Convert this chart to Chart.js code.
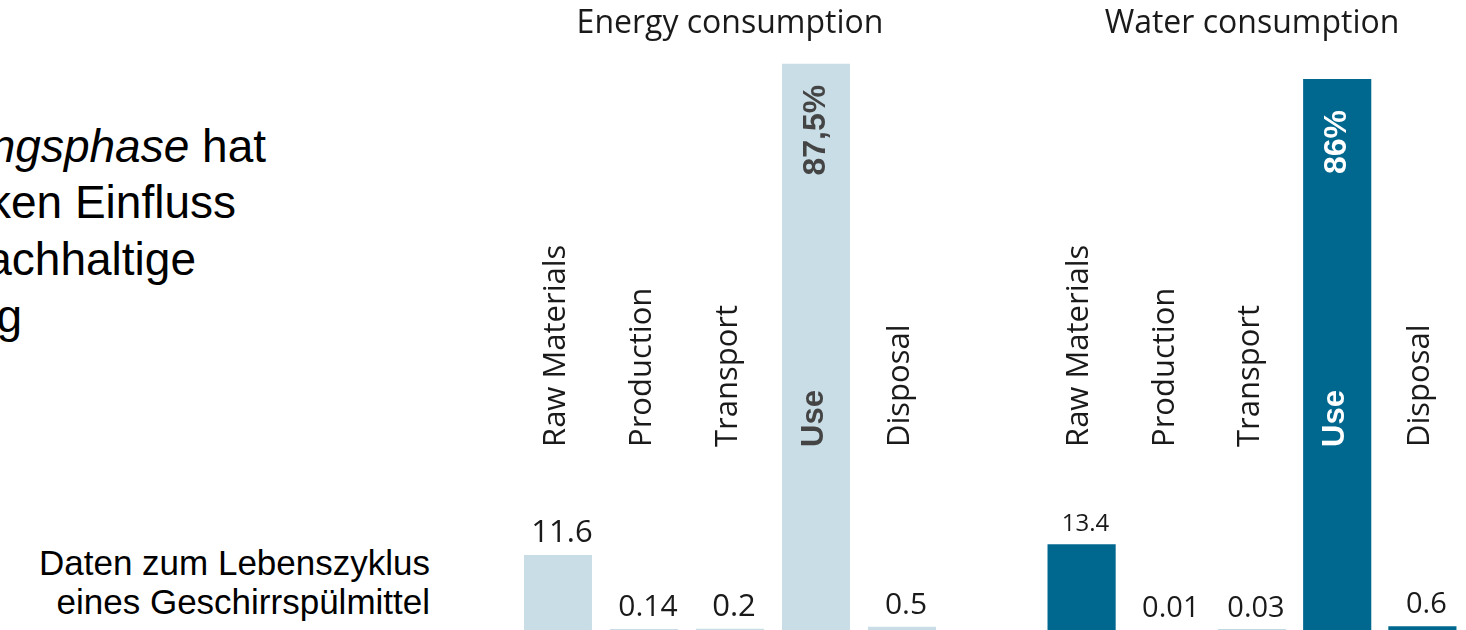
<!DOCTYPE html>
<html>
<head>
<meta charset="utf-8">
<script src="https://cdn.jsdelivr.net/npm/chart.js@4.4.1/dist/chart.umd.min.js"></script>
<style>
  html, body { margin: 0; padding: 0; background: #fff; }
  body { width: 1466px; height: 630px; position: relative; overflow: hidden; font-family: "Liberation Sans", Arial, sans-serif; color: #000; }
  .slide { position: absolute; white-space: nowrap; text-align: right; font-size: 46px; line-height: 57px; }
  .cap { position: absolute; white-space: nowrap; text-align: right; font-size: 35px; line-height: 40px; right: 1036px; }
  canvas { position: absolute; top: 0; }
</style>
</head>
<body>
<div class="slide" style="right:1200px; top:118px;"><i>Nutzungsphase</i> hat</div>
<div class="slide" style="right:1230px; top:174px;">starken Einfluss</div>
<div class="slide" style="right:1270px; top:231px;">nachhaltige</div>
<div class="slide" style="right:1444px; top:288px;">Entwicklung</div>

<div class="cap" style="top:543px;">Daten zum Lebenszyklus</div>
<div class="cap" style="top:582px;">eines Geschirrspülmittel</div>

<canvas id="energyChart" width="430" height="630" style="left:515px;"></canvas>
<canvas id="waterChart" width="426" height="630" style="left:1039px;"></canvas>

<script>
const categories = ["Raw Materials", "Production", "Transport", "Use", "Disposal"];
const energyValues = [11.6, 0.14, 0.2, 87.5, 0.5];
const energyLabels = ["11.6", "0.14", "0.2", "87,5%", "0.5"];
const waterValues = [13.4, 0.01, 0.03, 86, 0.6];
const waterLabels = ["13.4", "0.01", "0.03", "86%", "0.6"];

// draws the rotated category names and the value labels
const barText = {
  id: "barText",
  afterDatasetsDraw(chart, args, opts) {
    const ctx = chart.ctx;
    const meta = chart.getDatasetMeta(0);
    const values = chart.data.datasets[0].data;
    const mainIndex = values.indexOf(Math.max(...values));

    meta.data.forEach((bar, i) => {
      const isMain = i === mainIndex;

      ctx.save();
      ctx.translate(bar.x - 2, 447);
      ctx.rotate(-Math.PI / 2);
      ctx.textAlign = "left";
      ctx.textBaseline = "middle";
      ctx.font = isMain ? 'bold 31px "Liberation Sans", Arial' : '31px "Open Sans"';
      ctx.fillStyle = isMain ? opts.mainColor : "#1a1a1a";
      ctx.fillText(categories[i], 0, 0);
      ctx.restore();

      ctx.save();
      if (isMain) {
        ctx.translate(bar.x, bar.y + opts.mainOffset);
        ctx.rotate(-Math.PI / 2);
        ctx.textAlign = "right";
        ctx.textBaseline = "middle";
        ctx.font = 'bold 32px "Liberation Sans", Arial';
        ctx.fillStyle = opts.mainColor;
        ctx.fillText(opts.labels[i], 0, 0);
      } else {
        ctx.textAlign = "center";
        ctx.textBaseline = "alphabetic";
        ctx.font = opts.fontSizes[i] + 'px "Open Sans"';
        ctx.fillStyle = "#1a1a1a";
        ctx.fillText(opts.labels[i], bar.x + 4, bar.y - 13);
      }
      ctx.restore();
    });
  },
};

function makeChart(id, title, values, labels, color, yMax, barPct, textOpts) {
  const ctx = document.getElementById(id).getContext("2d");
  return new Chart(ctx, {
    type: "bar",
    data: {
      labels: categories,
      datasets: [
        {
          data: values,
          backgroundColor: color,
          borderWidth: 0,
          categoryPercentage: 1,
          barPercentage: barPct,
        },
      ],
    },
    options: {
      responsive: false,
      animation: false,
      layout: { padding: 0 },
      plugins: {
        legend: { display: false },
        tooltip: { enabled: false },
        title: {
          display: true,
          text: title,
          color: "#1a1a1a",
          font: { family: "Open Sans", size: 32, weight: "normal" },
          padding: { top: 5, bottom: 3 },
        },
        barText: Object.assign({ labels: labels }, textOpts),
      },
      scales: {
        x: { display: false },
        y: { display: false, min: 0, max: yMax },
      },
    },
    plugins: [barText],
  });
}

makeChart("energyChart", "Energy consumption", energyValues, energyLabels, "#c8dde6", 90.2, 0.79, {
  mainColor: "#444444",
  mainOffset: 21,
  fontSizes: [31, 30, 31, 31, 30],
});

makeChart("waterChart", "Water consumption", waterValues, waterLabels, "#00688f", 91.1, 0.8, {
  mainColor: "#ffffff",
  mainOffset: 31,
  fontSizes: [24, 29, 29, 29, 29],
});
</script>
</body>
</html>
